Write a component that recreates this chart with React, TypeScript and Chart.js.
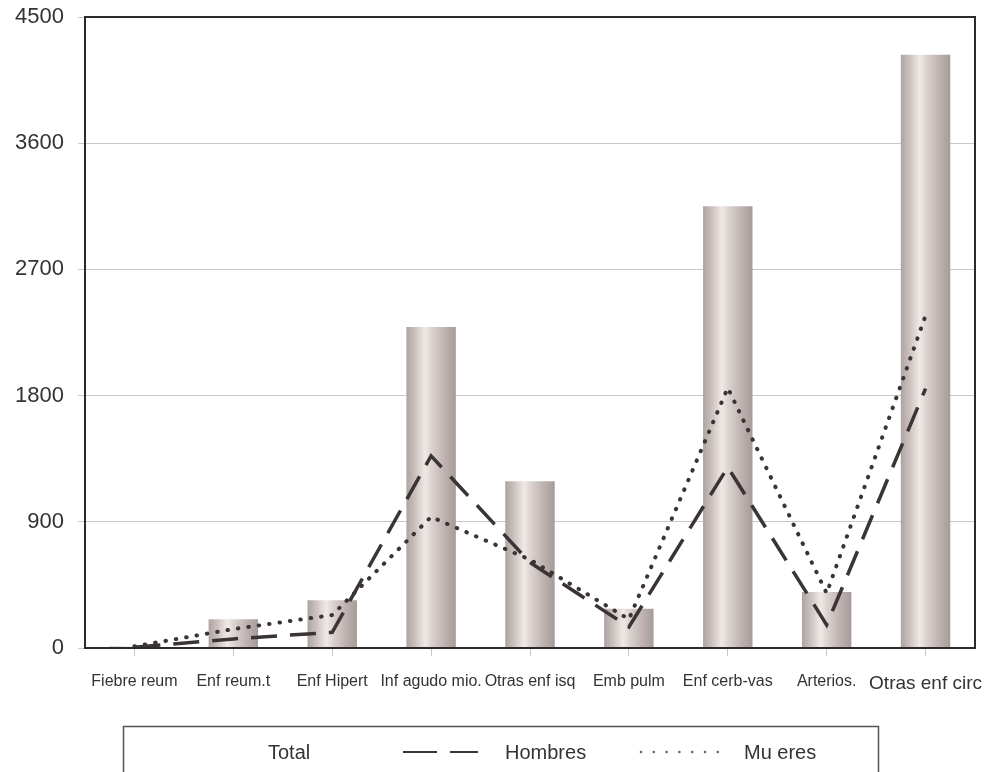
import React, { useEffect, useRef } from "react";
import { Chart, registerables } from "chart.js";

Chart.register(...registerables);

const categories = [
  "Fiebre reum",
  "Enf reum.t",
  "Enf Hipert",
  "Inf agudo mio.",
  "Otras enf isq",
  "Emb pulm",
  "Enf cerb-vas",
  "Arterios.",
  "Otras enf circ",
];
const totalValues = [10, 205, 340, 2290, 1190, 280, 3150, 400, 4230];
const hombresValues = [5, 65, 112, 1370, 610, 150, 1290, 165, 1850];
const mujeresValues = [12, 135, 235, 935, 630, 205, 1855, 390, 2370];
const yTicks = [0, 900, 1800, 2700, 3600, 4500];
const seriesLabels = ["Total", "Hombres", "Mu eres"];

const FONT = "'Liberation Sans', Arial, sans-serif";
const TEXT = "#333333";
const LINE = "#3a3434";

const framePlugin = {
  id: "frameAndLegend",
  afterDraw(chart: any) {
    const { ctx, chartArea } = chart;
    ctx.save();
    ctx.strokeStyle = "#2e2a2a";
    ctx.lineWidth = 2;
    ctx.strokeRect(chartArea.left, chartArea.top, chartArea.right - chartArea.left, chartArea.bottom - chartArea.top);

    // legend box
    ctx.strokeStyle = "#555";
    ctx.lineWidth = 1.5;
    ctx.strokeRect(123.5, 726.5, 755, 70);

    const ds = chart.data.datasets;
    const cy = 753;
    ctx.fillStyle = TEXT;
    ctx.font = `20px ${FONT}`;
    ctx.textBaseline = "middle";
    ctx.textAlign = "left";
    ctx.fillText(ds[0].label, 268, cy);

    // dashed sample
    ctx.strokeStyle = LINE;
    ctx.lineWidth = 2;
    ctx.setLineDash([34, 13]);
    ctx.beginPath();
    ctx.moveTo(403, cy - 1);
    ctx.lineTo(478, cy - 1);
    ctx.stroke();
    ctx.setLineDash([]);
    ctx.fillText(ds[1].label, 505, cy);

    // dotted sample
    ctx.fillStyle = "#666";
    for (let i = 0; i < 7; i++) {
      ctx.beginPath();
      ctx.arc(641 + i * 12.8, cy - 1, 1.3, 0, Math.PI * 2);
      ctx.fill();
    }
    ctx.fillStyle = TEXT;
    ctx.fillText(ds[2].label, 744, cy);
    ctx.restore();
  },
};

export default function App() {
  const ref = useRef<HTMLCanvasElement | null>(null);

  useEffect(() => {
    if (!ref.current) return;
    const barFill = (c: any) => {
      const chart = c.chart;
      const xs = chart.scales && chart.scales.x;
      if (!xs || c.type !== "data" || !chart.chartArea) return "#c8bebb";
      const cx = xs.getPixelForValue(c.dataIndex);
      const w = (xs.width / categories.length) * 0.5;
      const g = chart.ctx.createLinearGradient(cx - w / 2, 0, cx + w / 2, 0);
      g.addColorStop(0, "#aea3a0");
      g.addColorStop(0.15, "#c6bcb9");
      g.addColorStop(0.38, "#efeae7");
      g.addColorStop(0.5, "#ddd5d2");
      g.addColorStop(0.75, "#c0b5b2");
      g.addColorStop(1, "#a79b99");
      return g;
    };

    const chart = new Chart(ref.current, {
      type: "bar",
      data: {
        labels: categories,
        datasets: [
          {
            type: "bar",
            label: seriesLabels[0],
            data: totalValues,
            backgroundColor: barFill,
            borderWidth: 0,
            barPercentage: 0.5,
            categoryPercentage: 1,
            order: 2,
          },
          {
            type: "line",
            label: seriesLabels[1],
            data: hombresValues,
            borderColor: LINE,
            borderWidth: 3.5,
            borderDash: [26, 13],
            borderCapStyle: "butt",
            pointRadius: 0,
            tension: 0,
            fill: false,
            order: 1,
          },
          {
            type: "line",
            label: seriesLabels[2],
            data: mujeresValues,
            borderColor: LINE,
            borderWidth: 4,
            borderDash: [0.5, 10],
            borderCapStyle: "round",
            pointRadius: 0,
            tension: 0,
            fill: false,
            order: 0,
          },
        ] as any,
      },
      options: {
        responsive: false,
        animation: false,
        devicePixelRatio: 1,
        layout: { padding: { top: 17, right: 13, left: 0, bottom: 0 } },
        plugins: {
          legend: { display: false },
          tooltip: { enabled: false },
          title: { display: false },
        },
        scales: {
          x: {
            afterFit: (s: any) => {
              s.height = 124;
              s.paddingLeft = 0;
              s.paddingRight = 0;
            },
            grid: {
              display: true,
              drawOnChartArea: false,
              drawTicks: true,
              tickLength: 8,
              color: "#c4c4c4",
              offset: false,
            },
            border: { display: false },
            ticks: {
              autoSkip: false,
              maxRotation: 0,
              minRotation: 0,
              padding: 16,
              color: TEXT,
              font: (c: any) => ({
                family: FONT,
                size: c.index === categories.length - 1 ? 19 : 16,
              }),
            },
          },
          y: {
            min: 0,
            max: 4500,
            afterFit: (s: any) => {
              s.width = 85;
              s.paddingTop = 0;
              s.paddingBottom = 0;
            },
            afterBuildTicks: (s: any) => {
              s.ticks = yTicks.map((v) => ({ value: v }));
            },
            grid: {
              color: "#c8c8c8",
              lineWidth: 1,
              tickLength: 7,
            },
            border: { display: false },
            ticks: {
              padding: 14,
              color: TEXT,
              font: { family: FONT, size: 22 },
              callback: (v: any) => String(v),
            },
          },
        },
      },
      plugins: [framePlugin],
    });
    return () => chart.destroy();
  }, []);

  return (
    <div style={{ position: "absolute", left: 0, top: 0, width: 988, height: 772, background: "#fff" }}>
      <canvas ref={ref} width={988} height={772} style={{ display: "block" }} />
    </div>
  );
}
